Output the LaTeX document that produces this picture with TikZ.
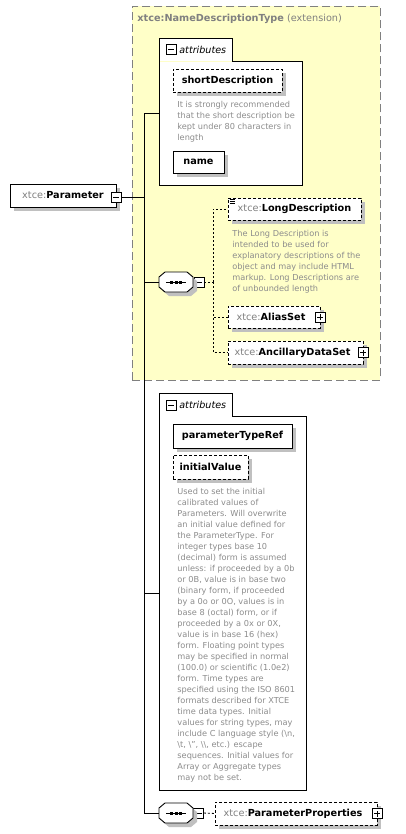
\documentclass[tikz,border=0pt]{standalone}
\usepackage{fontspec}
\setmainfont{DejaVu Sans}
\usetikzlibrary{positioning,shadows,calc}
\definecolor{Pale}{HTML}{FFFFC8}
\definecolor{Label}{HTML}{808080}
\definecolor{Note}{HTML}{8C8C8C}
\definecolor{Shade}{HTML}{C0C0C0}
\newcommand{\xns}[1]{{\color{Label}\mdseries xtce:}\textbf{#1}}

\begin{document}
\begin{tikzpicture}[x=1pt,y=-1pt,line width=0.9pt,
    elem/.style={draw,fill=white,inner sep=0pt,minimum height=23pt,
      font=\fontsize{9.7}{11}\selectfont\bfseries,
      drop shadow={shadow xshift=4pt,shadow yshift=-4pt,fill=Shade,opacity=1}},
    optl/.style={elem,dash pattern=on 3pt off 2pt},
    note/.style={anchor=north west,inner sep=0pt,align=left,text=Note,
      font=\fontsize{8.2}{11}\selectfont},
    tog/.style={draw,fill=white,minimum size=10pt,inner sep=0pt},
    minus/.style={tog,path picture={
      \draw ([xshift=2pt]path picture bounding box.west)
        -- ([xshift=-2pt]path picture bounding box.east);}},
    plus/.style={tog,path picture={
      \draw ([xshift=2pt]path picture bounding box.west)
        -- ([xshift=-2pt]path picture bounding box.east);
      \draw ([yshift=2pt]path picture bounding box.south)
        -- ([yshift=-2pt]path picture bounding box.north);}},
    tabbox/.style={fill=white,inner sep=0pt,minimum width=73pt,
      minimum height=23pt,anchor=north west},
    body/.style={fill=white,inner sep=0pt,anchor=north west},
    seqbox/.style={inner sep=0pt,minimum width=34pt,minimum height=20pt},
    link/.style={dash pattern=on 2pt off 2pt}]
  \useasboundingbox (0,0) rectangle (406,834);

  % extension frame
  \node[draw=Label,fill=Pale,dash pattern=on 8pt off 4pt,inner sep=0pt,
        minimum width=248pt,minimum height=374pt,anchor=north west]
    (ext) at (132,6) {};
  \node[anchor=west,text=Label,inner sep=0pt,font=\fontsize{9.7}{11}\selectfont]
    (ext-title) at (137,19) {\textbf{xtce:NameDescriptionType} (extension)};

  % root element
  \node[elem,minimum width=106pt] (par) at (63,195.5) {\xns{Parameter}};
  \node[minus] (par-tog) at ([yshift=-2pt]par.east) {};
  \coordinate (jt) at (144,197.5);

  % first attribute group
  \node[tabbox] (tab1) at (159,38) {};
  \node[body,minimum width=143pt,minimum height=123pt] (body1) at (tab1.south west) {};
  \draw (body1.south west) |- (tab1.north east) |- (body1.north east)
    -- (body1.south east) -- cycle;
  \node[minus,right=7pt of tab1.west] (tab1-tog) {};
  \node[right=2pt of tab1-tog,inner sep=0pt,font=\fontsize{9.6}{11}\selectfont\itshape]
    (tab1-lbl) {attributes};
  \node[optl,minimum width=109pt] (sdesc) at (227.5,80.5) {shortDescription};
  \node[note] (sdesc-note) at (177,101) {It is strongly recommended\\
    that the short description be\\kept under 80 characters in\\length};
  \node[elem,minimum width=51pt,minimum height=22pt] (name) at (198.5,162) {name};

  % sequence inside the extension
  \node[seqbox] (seq1) at (176,282) {};
  \node[minus] (seq1-tog) at (199,282) {};
  \coordinate (c1) at (213,282);
  \node[optl,minimum width=133pt,minimum height=22pt] (ld) at (294.5,209)
    {\xns{LongDescription}};
  \foreach \k in {0,2,4}
    \draw[line width=0.6pt] ([shift={(2,1.5+\k)}]ld.north west) -- ++(5,0);
  \node[note] (ld-note) at (232,229.5) {The Long Description is\\
    intended to be used for\\explanatory descriptions of the\\
    object and may include HTML\\markup.  Long Descriptions are\\
    of unbounded length};
  \node[optl,minimum width=92pt,minimum height=22pt] (as) at (274,317) {\xns{AliasSet}\hspace*{6pt}};
  \node[plus] (as-tog) at (as.east) {};
  \node[optl,minimum width=135pt] (ads) at (295.5,352.5) {\xns{AncillaryDataSet}\hspace*{6pt}};
  \node[plus] (ads-tog) at (ads.east) {};

  % second attribute group
  \node[tabbox] (tab2) at (159,393) {};
  \node[body,minimum width=147pt,minimum height=373pt] (body2) at (tab2.south west) {};
  \draw (body2.south west) |- (tab2.north east) |- (body2.north east)
    -- (body2.south east) -- cycle;
  \node[minus,right=7pt of tab2.west] (tab2-tog) {};
  \node[right=2pt of tab2-tog,inner sep=0pt,font=\fontsize{9.6}{11}\selectfont\itshape]
    (tab2-lbl) {attributes};
  \node[elem,minimum width=119pt,minimum height=24pt] (ptr) at (232.5,436) {parameterTypeRef};
  \node[optl,minimum width=75pt,minimum height=24pt] (iv) at (210.5,467) {initialValue};
  \node[note] (iv-note) at (177,487.5) {Used to set the initial\\
    calibrated values of\\Parameters.  Will overwrite\\
    an initial value defined for\\the ParameterType.  For\\
    integer types base 10\\(decimal) form is assumed\\
    unless: if proceeded by a 0b\\or 0B, value is in base two\\
    (binary form, if proceeded\\by a 0o or 0O, values is in\\
    base 8 (octal) form, or if\\proceeded by a 0x or 0X,\\
    value is in base 16 (hex)\\form.  Floating point types\\
    may be specified in normal\\(100.0) or scientific (1.0e2)\\
    form.  Time types are\\specified using the ISO 8601\\
    formats described for XTCE\\time data types.  Initial\\
    values for string types, may\\
    include C language style (\textbackslash n,\\
    \textbackslash t, \textbackslash", \textbackslash\textbackslash, etc.) escape\\
    sequences.  Initial values for\\Array or Aggregate types\\
    may not be set.};

  % trailing sequence
  \node[seqbox] (seq2) at (176,813) {};
  \node[minus] (seq2-tog) at (198.5,813) {};
  \node[optl,minimum width=162pt] (pp) at (296,813.5) {\xns{ParameterProperties}\hspace*{6pt}};
  \node[plus] (pp-tog) at (pp.east) {};

  % compositor outlines and marks
  \foreach \s in {seq1,seq2} {
    \fill[Shade] ($(\s.center)+(4,4)$) +(-11,-10) -- +(11,-10) -- +(17,-5)
      -- +(17,5) -- +(11,10) -- +(-11,10) -- +(-17,5) -- +(-17,-5) -- cycle;
    \filldraw[fill=white] (\s.center) +(-11,-10) -- +(11,-10) -- +(17,-5)
      -- +(17,5) -- +(11,10) -- +(-11,10) -- +(-17,5) -- +(-17,-5) -- cycle;
    \draw ([xshift=-10pt]\s.center) -- ([xshift=10pt]\s.center);
    \foreach \d in {-4.5,0,4.5}
      \fill ($(\s.center)+(\d-1.5,-1.5)$) rectangle ++(3,3);
  }

  % connectors
  \draw (par-tog.east) -- (jt);
  \draw (jt) |- ([yshift=10.5pt]body1.west);
  \draw (jt) |- (seq1.west);
  \draw (jt) |- ([yshift=10.5pt]body2.west);
  \draw (jt) |- (seq2.west);
  \draw[link] (seq1-tog.east) -- (c1);
  \draw[link] (c1) |- (ld.west);
  \draw[link] (c1) |- (as.west);
  \draw[link] (c1) |- (ads.west);
  \draw[link] (seq2-tog.east) -- (pp.west);
\end{tikzpicture}
\end{document}
